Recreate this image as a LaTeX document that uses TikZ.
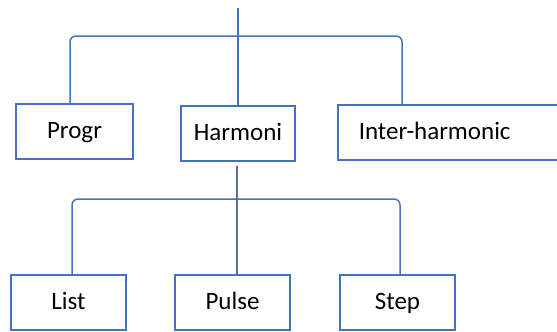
\documentclass[tikz,border=0pt]{standalone}
\usepackage{fontspec}
\setmainfont{Carlito}
\definecolor{boxblue}{HTML}{4472C4}
\definecolor{stemgray}{HTML}{5F6E8C}

\begin{document}
\begin{tikzpicture}[x=1pt,y=-1pt,
          box/.style={draw=boxblue,line width=1.5pt,minimum height=55pt,inner sep=0pt,
            text height=18pt,text depth=4pt,font=\fontsize{25}{30}\selectfont},
          link/.style={boxblue,line width=1.5pt,rounded corners=6pt}]
          \useasboundingbox (0,0) rectangle (557,332);
          \node[box,minimum width=117pt] (progr) at (74.5,131.5) {Progr};
          \node[box,minimum width=114pt,line width=2pt] (harmoni) at (238,133.5) {Harmoni};
          \node[box,anchor=west,inner xsep=21pt,text width=240pt,align=left] (inter) at (337,132.5) {Inter-harmonic};
          \node[box,minimum width=115pt] (list) at (68.5,302.5) {List};
          \node[box,minimum width=115pt] (pulse) at (232.5,302.5) {Pulse};
          \node[box,minimum width=115pt] (step) at (397.5,302.5) {Step};
          \coordinate (top) at (238,8);
          \coordinate (upbar) at (238,36);
          \coordinate (stem) at (237,166);
          \coordinate (lowbar) at (237,199);
          \draw[link] (top) -- (harmoni.north);
          \draw[link] ([xshift=-4.5pt]progr.north) |- (upbar) -| ([xshift=65pt]inter.north west);
          \draw[stemgray,line width=1.5pt] (stem) -- (stem |- pulse.north);
          \draw[link] ([xshift=3.5pt]list.north) |- (lowbar) -| ([xshift=2.5pt]step.north);
        \end{tikzpicture}
\end{document}
